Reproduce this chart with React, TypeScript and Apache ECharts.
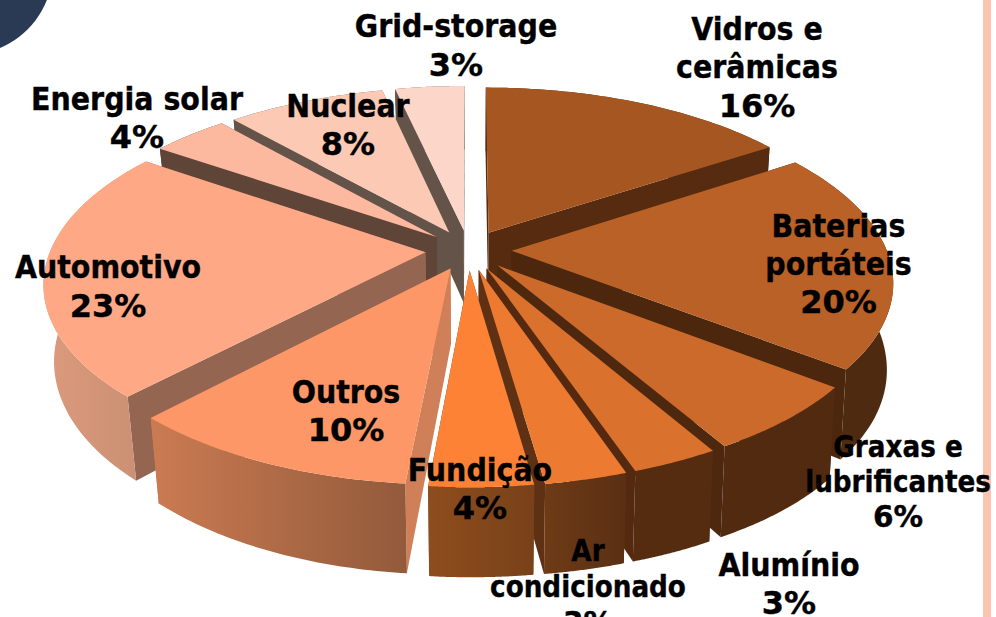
import React, { useEffect, useRef } from "react";
import * as echarts from "echarts";

const categories = ["Vidros e\ncerâmicas", "Baterias\nportáteis", "Graxas e\nlubrificantes", "Alumínio", "Ar\ncondicionado", "Fundição", "Outros", "Automotivo", "Energia solar", "Nuclear", "Grid-storage"];
const percentLabels = [16, 20, 6, 3, 3, 4, 10, 23, 4, 8, 3];
// slice sizes as measured on the picture, before the labels' rounding
const shares = [15.7, 19.8, 6.15, 3.15, 2.95, 3.7, 10.55, 22.6, 3.9, 8, 3.5];

const topColors = ["#A65620", "#B96126", "#CB6A2B", "#DA722D", "#EC7A31", "#FD8235", "#FE9767", "#FEA886", "#FDB9A0", "#FCC9B5", "#FBD6C9"];
const cutColors = ["#562B10", "#4C270E", "#4D280E", "#54290F", "#5E3114", "#6E3B16", "#D08058", "#946652", "#5F4438", "#635349", "#635349"];
const wallFrom = ["#562B10", "#4E2A10", "#522A10", "#562C11", "#6E3B16", "#8E4D1D", "#CB7B52", "#DC9A7C", "#5F4438", "#635349", "#635349"];
const wallTo = ["#562B10", "#4E2A10", "#522A10", "#562C11", "#5A2F13", "#784119", "#925A3B", "#C88E72", "#5F4438", "#635349", "#635349"];

// label centre x, block centre y, font size
const labelX = [757, 838.5, 898, 789, 588, 480, 346, 108, 137, 348, 456];
const labelY = [67, 264, 482, 584, 587, 489, 411, 286.5, 118, 125, 45.5];
const labelSize = [32, 32, 29.5, 32, 29.5, 32, 32, 32, 32, 32, 32];
const lineGap = [38.5, 38, 35, 38, 36, 38, 38, 39, 38, 38, 39];

const CX = 468.5, CY = 250, RX = 375, RY = 174, PERSP = 0.1635, EXPLODE = 0.115;
const TOTAL = shares.reduce((a, b) => a + b, 0);

function project(u: number, v: number): [number, number] {
  const d = 1 - PERSP * v;
  return [CX + (RX * u) / d, CY + (RY * v) / d];
}
function drop(p: [number, number]): [number, number] {
  const side = Math.max(0, (p[0] - CX) / 425);
  const depth = 73 + ((p[1] - 230) * 17) / 257 + 10 * side * side;
  const k = p[0] > CX ? 0.985 : 0.975;
  return [CX + (p[0] - CX) * k, p[1] + depth];
}

const midV = (i: number) => {
  const start = shares.slice(0, i).reduce((a, b) => a + b, 0);
  return -Math.cos(((start + shares[i] / 2) / TOTAL) * 2 * Math.PI);
};
const order = shares.map((_, i) => i).sort((a, b) => midV(a) - midV(b));

const renderSlice = (_: any, api: any) => {
  const i = api.value(0) as number;
  const value = api.value(1) as number;
  const start = shares.slice(0, i).reduce((a, b) => a + b, 0);
  const a0 = (start / TOTAL) * 2 * Math.PI;
  const a1 = ((start + value) / TOTAL) * 2 * Math.PI;
  const am = (a0 + a1) / 2;
  const ox = EXPLODE * Math.sin(am), oy = -EXPLODE * Math.cos(am);
  const steps = 48;
  const arc: [number, number][] = [];
  for (let k = 0; k <= steps; k++) {
    const a = a0 + ((a1 - a0) * k) / steps;
    arc.push(project(Math.sin(a) + ox, -Math.cos(a) + oy));
  }
  const apex = project(ox, oy);
  const rank = order.indexOf(i);
  const z = rank * 10 + 10;
  const arcDown = arc.map(drop);
  const apexDown = drop(apex);
  const poly = (points: [number, number][], fill: any, z2: number) => ({ type: "polygon", shape: { points }, style: { fill, stroke: "none" }, z2, silent: true });
  const wallFill = new echarts.graphic.LinearGradient(0, 0, 1, 0, [
    { offset: 0, color: wallFrom[i] },
    { offset: 1, color: wallTo[i] },
  ]);
  const frontFacing = midV(i) > 0;
  return {
    type: "group",
    children: [
      poly([...arc, ...arcDown.slice().reverse()], wallFill, frontFacing ? z + 2 : z),
      poly([apex, arc[0], arcDown[0], apexDown], cutColors[i], z + 1),
      poly([apex, arc[steps], arcDown[steps], apexDown], cutColors[i], z + 1),
      poly([apex, ...arc], topColors[i], z + 3),
    ],
  };
};

const renderLabel = (_: any, api: any) => {
  const i = api.value(0) as number;
  const gap = lineGap[i];
  const nameLines = categories[i].split("\n").length;
  const common = {
    fontFamily: "'DejaVu Sans'",
    fontWeight: "bold",
    fontSize: labelSize[i],
    lineHeight: gap,
    fill: "#000",
    stroke: "#000",
    lineWidth: 0.4,
    align: "center",
    verticalAlign: "middle",
  };
  return {
    type: "group",
    children: [
      { type: "text", x: labelX[i], y: labelY[i] - gap / 2, z2: 1000, silent: true, scaleX: 0.89, style: { ...common, text: categories[i] } },
      { type: "text", x: labelX[i], y: labelY[i] + (nameLines * gap) / 2, z2: 1000, silent: true, scaleX: 1.0, style: { ...common, text: `${api.value(1)}%` } },
    ],
  };
};

export default function App() {
  const ref = useRef<HTMLDivElement>(null);
  useEffect(() => {
    document.body.style.margin = "0";
    const chart = echarts.init(ref.current!, undefined, { renderer: "svg" });
    chart.setOption({
      animation: false,
      backgroundColor: "#fff",
      graphic: [
        { type: "circle", shape: { cx: -34, cy: -32, r: 87 }, style: { fill: "#2A3A55" }, silent: true },
        { type: "rect", shape: { x: 983, y: 0, width: 8, height: 617 }, style: { fill: "#FCC4B0" }, silent: true },
      ],
      series: [
        { type: "custom", coordinateSystem: "none", silent: true, renderItem: renderSlice, data: shares.map((v, i) => [i, v]), z: 2, clip: false },
        { type: "custom", coordinateSystem: "none", silent: true, renderItem: renderLabel, data: percentLabels.map((v, i) => [i, v]), z: 3, clip: false },
      ],
    });
    return () => chart.dispose();
  }, []);
  return <div ref={ref} style={{ width: 996, height: 617 }} />;
}
